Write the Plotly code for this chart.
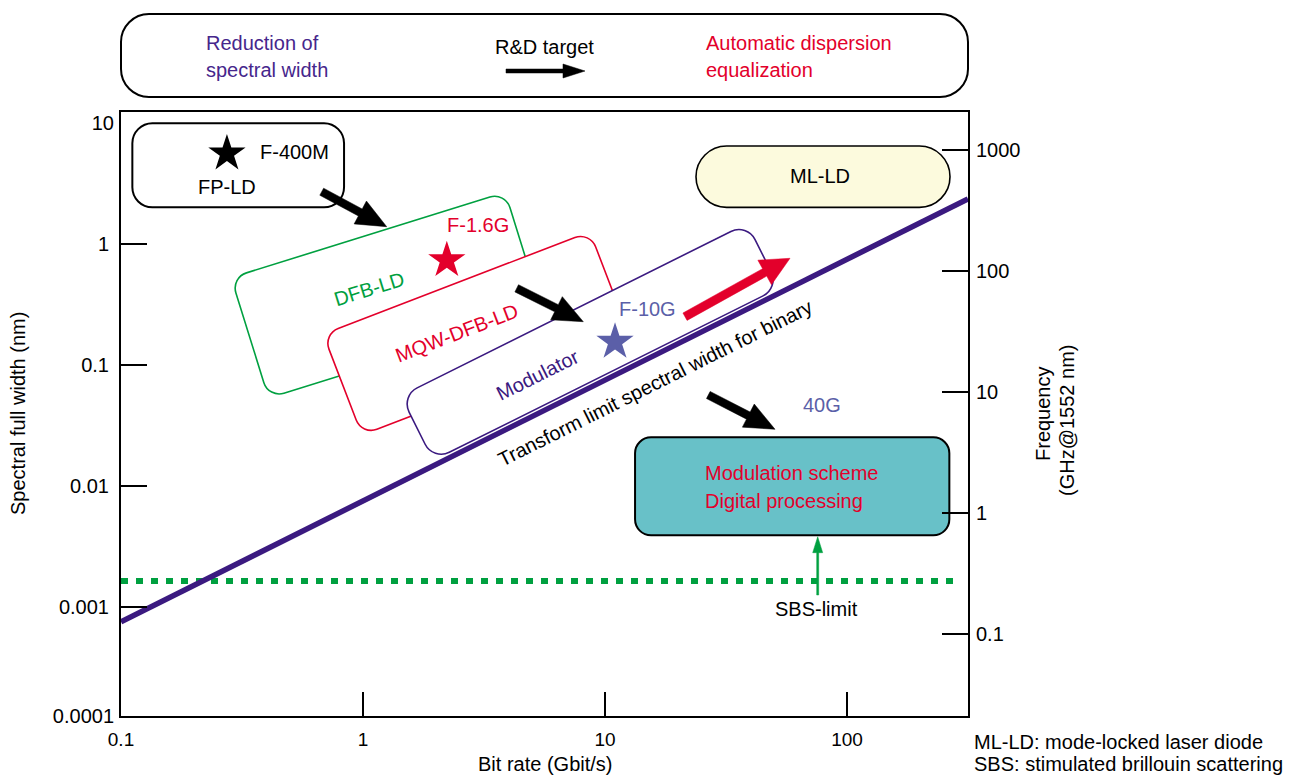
import math
import plotly.graph_objects as go

# ---------------- data ----------------
# transform-limit spectral width for binary (nm) vs bit rate (Gbit/s)
TL_RATE = [0.1, 316.0]
TL_WIDTH = [0.00076, 2.37]
# SBS limit (nm)
SBS_RATE = [0.1, 285.0]
SBS_WIDTH = [0.00165, 0.00165]
# stars: F-400M (FP-LD), F-1.6G, F-10G
STAR_RATE = [0.274, 2.22, 11.0]
STAR_WIDTH = [5.62, 0.738, 0.156]

# tick values / labels
X_TICKS = [0.1, 1, 10, 100]
X_TICK_TEXT = ["0.1", "1", "10", "100"]
Y_TICKS = [1, 0.1, 0.01, 0.001]
Y_TICK_TEXT = ["1", "0.1", "0.01", "0.001"]
Y_END_TICKS = [10, 1.27e-4]
Y_END_TEXT = ["10", "0.0001"]
F_TICKS = [0.1, 1, 10, 100, 1000]
F_TICK_TEXT = ["0.1", "1", "10", "100", "1000"]

# ---------------- styling / layout ----------------
FONT = "Liberation Sans, Arial, Helvetica, sans-serif"
FS = 20
BLACK = "#000000"
PURPLE = "#3b1a80"
PURPLE_T = "#46268c"
RED = "#e3002b"
GREEN = "#00a040"
SLATE = "#5b5fa8"
TEAL = "#68c1c8"
CREAM = "#fcfadd"
STAR_COLORS = [BLACK, RED, SLATE]

W_FIG, H_FIG = 1303, 776
L, T, W, H = 121, 112, 847, 604      # plot area in pixels
X_RANGE = [-1, 2.5]
Y_RANGE = [-3.898, 1.093]
F_RANGE = [-1.678, 3.314]


def P(px, py):
    return ((px - L) / W, (T + H - py) / H)


def fmt(pts):
    return " ".join("%.5f,%.5f" % P(*p) for p in pts)


def rrect(cx, cy, w, h, r, ang=0.0):
    a = math.radians(ang)
    u = (math.cos(a), -math.sin(a))
    v = (math.sin(a), math.cos(a))

    def pt(s, t):
        return (cx + s * u[0] + t * v[0], cy + s * u[1] + t * v[1])

    k = 0.5523 * r
    hw, hh = w / 2, h / 2
    d = "M " + fmt([pt(-hw + r, -hh)])
    d += " L " + fmt([pt(hw - r, -hh)])
    d += " C " + fmt([pt(hw - r + k, -hh), pt(hw, -hh + r - k), pt(hw, -hh + r)])
    d += " L " + fmt([pt(hw, hh - r)])
    d += " C " + fmt([pt(hw, hh - r + k), pt(hw - r + k, hh), pt(hw - r, hh)])
    d += " L " + fmt([pt(-hw + r, hh)])
    d += " C " + fmt([pt(-hw + r - k, hh), pt(-hw, hh - r + k), pt(-hw, hh - r)])
    d += " L " + fmt([pt(-hw, -hh + r)])
    d += " C " + fmt([pt(-hw, -hh + r - k), pt(-hw + r - k, -hh), pt(-hw + r, -hh)])
    return d + " Z"


def arrow(x0, y0, x1, y1, shaft, head_len, head_w):
    dx, dy = x1 - x0, y1 - y0
    n = math.hypot(dx, dy)
    ux, uy = dx / n, dy / n
    nx, ny = -uy, ux
    bx, by = x1 - ux * head_len, y1 - uy * head_len
    pts = [
        (x0 + nx * shaft / 2, y0 + ny * shaft / 2),
        (bx + nx * shaft / 2, by + ny * shaft / 2),
        (bx + nx * head_w / 2, by + ny * head_w / 2),
        (x1, y1),
        (bx - nx * head_w / 2, by - ny * head_w / 2),
        (bx - nx * shaft / 2, by - ny * shaft / 2),
        (x0 - nx * shaft / 2, y0 - ny * shaft / 2),
    ]
    return "M " + " L ".join(fmt([p]) for p in pts) + " Z"


shapes = []


def box(path, line_color, line_w, fill, layer="below"):
    shapes.append(dict(type="path", path=path, xref="paper", yref="paper",
                       line=dict(color=line_color, width=line_w),
                       fillcolor=fill, layer=layer))


def arr(path, color):
    shapes.append(dict(type="path", path=path, xref="paper", yref="paper",
                       line=dict(color=color, width=0.5), fillcolor=color,
                       layer="above"))


# boxes (pixel geometry)
box(rrect(544.5, 55.5, 847, 83, 28), BLACK, 2, "white")
box(rrect(238.2, 165.3, 211.7, 84, 20), BLACK, 2, "white")
box(rrect(386.9, 295.1, 287, 126, 16, 17.3), GREEN, 1.6, "white")
box(rrect(475.9, 333.4, 285.6, 108, 16, 21), RED, 1.6, "white")
box(rrect(590.1, 341.9, 386.6, 72, 18, 26.5), PURPLE, 1.6, "white")
box(rrect(823, 176.7, 254, 61.3, 30.6), BLACK, 1.6, CREAM)
box(rrect(792.2, 486.3, 314.3, 98, 16), BLACK, 2, TEAL)

# arrows
arr(arrow(321.7, 191.7, 386.7, 226.7, 8, 30, 26), BLACK)
arr(arrow(516.7, 288.3, 583.3, 321.7, 8, 30, 26), BLACK)
arr(arrow(708.3, 395, 775, 429.3, 8, 30, 26), BLACK)
arr(arrow(685, 316.7, 790, 258.3, 8.5, 29, 28), RED)
arr(arrow(506, 71, 585, 71, 4, 22, 14), BLACK)
arr(arrow(817.7, 595, 817.7, 536.7, 2, 16, 10), GREEN)

# texts: (text, px, py, xanchor, angle, color)
TEXTS = [
    ("F-400M", 258, 152, "left", 0, BLACK),
    ("FP-LD", 226.7, 186.7, "center", 0, BLACK),
    ("DFB-LD", 369, 289, "center", -17.3, GREEN),
    ("F-1.6G", 477.5, 225, "center", 0, RED),
    ("MQW-DFB-LD", 457, 333, "center", -21, RED),
    ("Modulator", 537.5, 375, "center", -26.5, PURPLE),
    ("F-10G", 647.5, 309.3, "center", 0, SLATE),
    ("Transform limit spectral width for binary", 655, 383, "center", -26.5, BLACK),
    ("40G", 821.7, 405, "center", 0, SLATE),
    ("ML-LD", 820, 176, "center", 0, BLACK),
    ("Modulation scheme", 702.7, 473, "left", 0, RED),
    ("Digital processing", 702.7, 500.7, "left", 0, RED),
    ("SBS-limit", 816.7, 609, "center", 0, BLACK),
    ("Reduction of", 204, 43, "left", 0, PURPLE_T),
    ("spectral width", 204, 70, "left", 0, PURPLE_T),
    ("R&amp;D target", 544.5, 47, "center", 0, BLACK),
    ("Automatic dispersion", 704, 43, "left", 0, RED),
    ("equalization", 704, 70, "left", 0, RED),
    ("ML-LD: mode-locked laser diode", 972, 742, "left", 0, BLACK),
    ("SBS: stimulated brillouin scattering", 972, 764, "left", 0, BLACK),
    ("Bit rate (Gbit/s)", 544.5, 764, "center", 0, BLACK),
    ("Spectral full width (nm)", 18, 414, "center", -90, BLACK),
    ("Frequency", 1043, 414, "center", -90, BLACK),
    ("(GHz@1552 nm)", 1067, 421, "center", -90, BLACK),
]

annotations = []
for txt, px, py, xa, ang, col in TEXTS:
    x, y = P(px, py)
    annotations.append(dict(text=txt, x=x, y=y, xref="paper", yref="paper",
                            xanchor=xa, yanchor="middle", showarrow=False,
                            textangle=ang, font=dict(family=FONT, size=FS, color=col)))

fig = go.Figure()
fig.add_trace(go.Scatter(x=SBS_RATE, y=SBS_WIDTH, mode="lines",
                         line=dict(color=GREEN, width=6, dash="7px,8px"),
                         hoverinfo="skip", showlegend=False))
fig.add_trace(go.Scatter(x=TL_RATE, y=TL_WIDTH, mode="lines",
                         line=dict(color=PURPLE, width=5.5),
                         hoverinfo="skip", showlegend=False))
fig.add_trace(go.Scatter(x=STAR_RATE, y=STAR_WIDTH, mode="markers",
                         marker=dict(symbol="star", size=28, color=STAR_COLORS,
                                     line=dict(width=0)),
                         hoverinfo="skip", showlegend=False))
# carriers for the secondary axes
fig.add_trace(go.Scatter(x=[1], y=[1], yaxis="y2", mode="markers",
                         marker=dict(opacity=0), hoverinfo="skip", showlegend=False))
fig.add_trace(go.Scatter(x=[1], y=[1], yaxis="y3", mode="markers",
                         marker=dict(opacity=0), hoverinfo="skip", showlegend=False))

tickfont = dict(family=FONT, size=FS, color=BLACK)
common = dict(type="log", showgrid=False, zeroline=False, tickfont=tickfont,
              tickcolor=BLACK, tickwidth=2)
xcommon = dict(common, tickfont=dict(family=FONT, size=19, color=BLACK))

fig.update_layout(
    width=W_FIG, height=H_FIG, autosize=False,
    margin=dict(l=L, r=W_FIG - L - W, t=T, b=H_FIG - T - H, pad=0),
    paper_bgcolor="white", plot_bgcolor="white",
    showlegend=False,
    xaxis=dict(range=X_RANGE, tickvals=X_TICKS, ticktext=X_TICK_TEXT,
               ticks="inside", ticklen=24, showline=True, linecolor=BLACK,
               linewidth=2, mirror=True, ticklabelstandoff=5, **xcommon),
    yaxis=dict(range=Y_RANGE, tickvals=Y_TICKS, ticktext=Y_TICK_TEXT,
               ticks="inside", ticklen=26, showline=True, linecolor=BLACK,
               linewidth=2, mirror=True, ticklabelstandoff=6, **common),
    yaxis3=dict(range=Y_RANGE, tickvals=Y_END_TICKS, ticktext=Y_END_TEXT,
                overlaying="y", side="left", anchor="x", ticks="",
                showline=False, ticklabelstandoff=6, **common),
    yaxis2=dict(range=F_RANGE, tickvals=F_TICKS, ticktext=F_TICK_TEXT,
                overlaying="y", side="right", anchor="x", ticks="inside",
                ticklen=26, showline=True, linecolor=BLACK, linewidth=2,
                ticklabelstandoff=2, **common),
    shapes=shapes,
    annotations=annotations,
)

fig.write_html("out.html", config={"displayModeBar": False},
               post_script="document.body.style.margin='0';")
